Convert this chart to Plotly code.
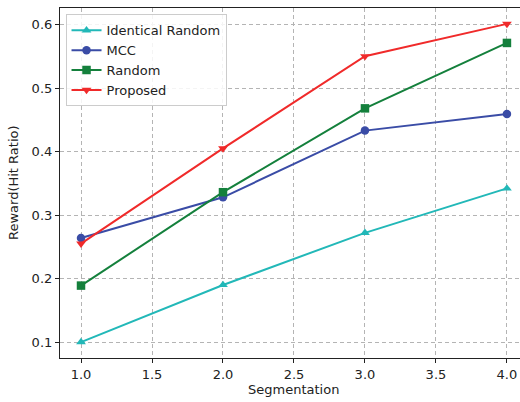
import plotly.graph_objects as go

segments = [1.0, 2.0, 3.0, 4.0]
identical_random = [0.100, 0.190, 0.272, 0.342]
mcc = [0.264, 0.328, 0.433, 0.459]
random_vals = [0.189, 0.336, 0.468, 0.571]
proposed = [0.255, 0.405, 0.550, 0.601]

x_ticks = [1.0, 1.5, 2.0, 2.5, 3.0, 3.5, 4.0]
y_ticks = [0.1, 0.2, 0.3, 0.4, 0.5, 0.6]

series = [
    ("Identical Random", identical_random, "#22b8b8", "triangle-up"),
    ("MCC", mcc, "#3a4ca6", "circle"),
    ("Random", random_vals, "#14803c", "square"),
    ("Proposed", proposed, "#f02a2a", "triangle-down"),
]

fig = go.Figure()
for name, vals, color, sym in series:
    fig.add_trace(go.Scatter(
        x=segments, y=vals, name=name, mode="lines+markers",
        line=dict(color=color, width=2),
        marker=dict(symbol=sym, size=8.5, color=color),
    ))

font = "DejaVu Sans, sans-serif"
fs = 13
fig.update_layout(
    width=520, height=402,
    margin=dict(l=60, r=0, t=8, b=44, autoexpand=False),
    paper_bgcolor="white", plot_bgcolor="white",
    font=dict(family=font, size=fs, color="#222"),
    showlegend=True,
    legend=dict(
        x=0.012, y=0.982, xanchor="left", yanchor="top",
        bgcolor="rgba(255,255,255,0.85)", bordercolor="#cccccc", borderwidth=1,
        font=dict(family=font, size=fs, color="#222"),
        tracegroupgap=0, itemwidth=30,
    ),
    xaxis=dict(
        range=[0.852, 4.092], tickvals=x_ticks,
        ticktext=[f"{v:.1f}" for v in x_ticks],
        showgrid=True, gridcolor="#b4b4b4", griddash="4px,3px", gridwidth=1,
        showline=True, linecolor="#222", linewidth=1.2, mirror=True,
        ticks="outside", ticklen=4, tickcolor="#222",
        zeroline=False, automargin=False,
    ),
    yaxis=dict(
        range=[0.075, 0.626], tickvals=y_ticks,
        ticktext=[f"{v:.1f}" for v in y_ticks],
        showgrid=True, gridcolor="#b4b4b4", griddash="4px,3px", gridwidth=1,
        showline=True, linecolor="#222", linewidth=1.2, mirror=False,
        ticks="outside", ticklen=4, tickcolor="#222",
        zeroline=False, automargin=False,
    ),
)
fig.add_annotation(text="Segmentation", xref="paper", yref="paper",
                   x=(293 - 60) / 460, y=-(389 - 358) / 350,
                   xanchor="center", yanchor="middle", showarrow=False,
                   font=dict(family=font, size=fs, color="#222"))
fig.add_annotation(text="Reward(Hit Ratio)", xref="paper", yref="paper",
                   x=-(60 - 13) / 460, y=0.5, textangle=-90,
                   xanchor="center", yanchor="middle", showarrow=False,
                   font=dict(family=font, size=fs, color="#222"))

fig.write_html(
    "out.html",
    config={"displayModeBar": False},
    post_script="document.body.style.margin='0';document.body.style.overflow='hidden';",
)
